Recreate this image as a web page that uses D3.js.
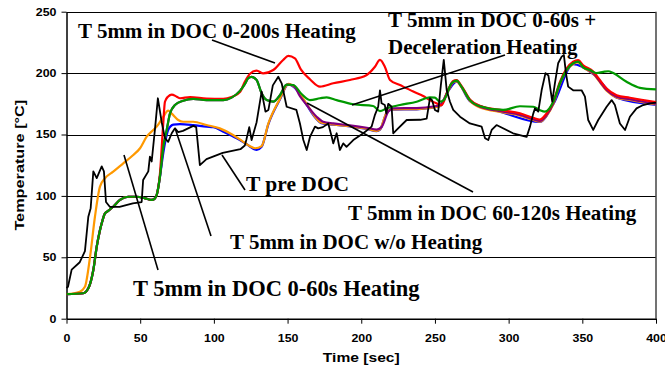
<!DOCTYPE html>
<html><head><meta charset="utf-8">
<script src="https://cdn.jsdelivr.net/npm/d3@7"></script>
<style>body{margin:0;background:#fff}svg{display:block}</style>
</head><body>
<svg id="c" width="665" height="376"></svg>
<script>
// ---- data (time [s], temperature [°C]) ----
const xTicks = [0,50,100,150,200,250,300,350,400];
const yTicks = [0,50,100,150,200,250];

const early = [[0,20],[11.4,20.7],[14.8,24.7],[18.2,39.7],[20.5,58.6],[22.7,72],[23.9,77.7],[26.1,85.8],[27.3,87],[31.7,91.2],[36.3,96.7],[41.9,99.3],[47.6,99.3],[53.3,98],[57.8,96.7],[60,98],[61.2,100.7]];

const preDoc = [[0,25],[1,26],[3.5,40],[9,46],[12.5,55],[14.8,83],[16.4,90],[18.2,120],[20.5,114.5],[23.9,124],[25.4,120],[26.8,95],[29.5,91],[36,91],[45,94],[51,95],[52,113],[55.5,120],[56.6,132],[57.8,128],[60,154],[62,179.5],[64.6,160],[66.8,147],[69,144],[71.4,151],[73.6,155],[75.8,152],[79,153],[86,157],[88,156],[90.5,125],[95,130],[106,135],[118,138],[121,141],[122,145.5],[124,156],[125.6,145.5],[129,160],[132.4,185],[135,168.6],[137,170],[140,190],[143.7,197],[146,191.7],[149.4,172.6],[156,170],[158.4,159],[160.7,145.5],[163,137.4],[165.2,148],[168.6,156.4],[170.8,155],[174,156],[177.6,159],[180,148],[181,142.8],[183.3,151],[185.5,137.4],[187.8,142.8],[190,140],[194.6,145.5],[201.4,151],[207,156.4],[209.3,166],[211.5,172.6],[212.7,186],[213.8,175.4],[216,174],[217,167],[218.3,175],[220.6,172.6],[221.7,151],[224,153.7],[230.8,161.8],[240,162],[244.4,163],[246.6,179.5],[248,178],[250,170],[252.2,168.6],[254,190],[256,210.7],[258,186],[260.2,176.7],[262.4,170],[267,164.5],[273.7,159],[281.7,156.4],[284,147],[286.2,145.5],[288.5,153.7],[291.8,157.7],[303,151],[312.2,148],[314.5,156.4],[316.7,167],[317.9,171.3],[320.1,168.6],[322.4,186],[325,200],[327,198],[329.6,176.7],[331.4,191.7],[333.6,208],[336,213.4],[337.5,214.7],[338.9,200],[340.4,189],[343.8,186],[349.5,186],[351.8,180.8],[354,161.8],[357.4,153.7],[360.8,161.8],[366.5,172.6],[369.9,178],[372.1,174],[375.5,159],[379,153.7],[382.3,164.5],[386.8,171.3],[391.3,174],[395.8,175.4],[400,176]];

const heat0to60 = [[0,20],[9,22],[12.5,26],[16,50.5],[19.3,83],[22.7,107.5],[26.1,114.3],[31.7,119.7],[38.5,126.5],[45.3,133.3],[49.9,138.8],[54.4,148.2],[58.9,153.7],[61.2,156.4],[65.7,164.5],[69,169.5],[71.4,167],[75.8,161.8],[79.2,160.4],[86,160.4],[95,157.7],[104,155],[113,149.6],[120,144],[124.5,140.5],[128,138.8],[132.4,140.6],[137,159],[144.8,179],[150.5,191.3],[155,188.5],[160.7,179],[165,171],[168.6,164.5],[173,159.6],[181,158.2],[192.3,156.7],[203.7,154.7],[210.5,153],[212.7,154.2],[217.2,167.8],[220.6,170.5],[237.6,170.7],[248.9,172],[253.4,173.2],[259,185.5],[262.4,192.5],[264.7,193.3],[268,188.5],[273.7,177.5],[280.5,172],[296.3,168],[307.7,165.4],[316.7,161.8],[321.2,160.4],[325.8,165.4],[330.3,174.8],[334.8,191],[339.3,202],[343.8,207.4],[347.2,208.7],[350.6,204.6],[357.4,199.4],[362,192.4],[366.5,185.6],[373.3,180.2],[382.3,178.1],[389.1,176.7],[400,174.4]];

const noHeat = early.concat([[63.4,115.6],[65.7,135],[66.8,142.8],[69,153.7],[72.5,158],[77,158.5],[86,157.7],[95,156.4],[99.6,156],[106.4,152.3],[115.5,146.9],[122.3,142],[129,137.5],[132.4,140],[137,158.5],[144.8,178.5],[150.5,190.8],[155,188],[160.7,178.5],[168.6,164],[173,159.2],[181,158],[192.3,156.5],[203.7,154.5],[210.5,152.8],[212.7,154],[217.2,167.5],[220.6,170.3],[237.6,170.5],[253.4,173],[259,185.3],[264.7,193],[273.7,177.3],[296.3,167.8],[321.2,160.2],[330.3,174.6],[343.8,207.2],[357.4,199.2],[373.3,180],[400,174.2]]);

const heat0to200 = early.concat([[63.4,118],[65.7,160],[66.8,176.7],[69,181],[71.4,182.5],[74.8,180.8],[77,179.5],[83.8,180.5],[95,179.3],[106.4,179],[112,180.5],[117.7,184.5],[121,193],[124.5,199.5],[129,202],[133.5,199.8],[140.3,202.5],[147,210.7],[150.5,214],[155,212],[159,203],[165.2,195],[172,189],[181,191.7],[192.3,194.4],[203.7,198.5],[209.3,205.2],[212.7,210.7],[216,205.2],[219.5,194.4],[226.3,190.3],[235.3,185],[242,181.4],[246.6,178],[251,175.4],[254.5,173.8],[259,186.6],[262.4,193.6],[264.7,194.4],[268,189.6],[273.7,178.6],[280.5,173.4],[296.3,169.6],[307.7,167.2],[316.7,163.6],[321.2,162.2],[325.8,167.2],[330.3,176.6],[334.8,192.8],[339.3,203.6],[343.8,209.2],[347.2,210.5],[350.6,206.4],[357.4,201.2],[362,194.2],[366.5,187.4],[373.3,182],[382.3,179.9],[389.1,178.5],[400,176.3]]);

const heatDecel = early.concat([[63.4,115.6],[65.7,140],[68,153.7],[70.2,167],[73.6,174],[79.2,177.5],[86,179],[95,178],[106.4,178],[112,180],[117.7,185.5],[121,191],[123.3,195.8],[125.6,197],[129,194.4],[132.4,183.5],[135.8,178],[140.3,176.7],[144.8,182],[149.4,190.6],[153.9,190.3],[159.5,183],[165.2,178],[172,179.5],[176.5,180.3],[183.3,178],[194.6,174.6],[208,173.2],[212.7,169],[217.2,171.3],[226.3,174],[237.6,176.7],[246.6,180.3],[250,180],[253.4,176.7],[256,178],[261.3,191.7],[264.7,193.8],[268,189],[273.7,178],[280.5,173],[296.3,170],[307.7,173],[316.7,172.6],[321,170],[324.6,168.6],[330.3,176.7],[334.8,191.7],[339.3,202.5],[343.8,208],[347.2,209.3],[350.6,204.7],[355.2,202.5],[359.7,200],[364.2,201],[367.6,201.5],[371,200],[380,193],[389.1,188],[400,186.7]]);

const heat60to120 = early.concat([[63.4,115.6],[65.7,140],[68,153.7],[70.2,167],[73.6,174],[79.2,177.5],[86,179],[95,178],[106.4,178],[112,180],[117.7,185.5],[121,191],[123.3,195.8],[125.6,197],[129,194.4],[132.4,183.5],[135.8,178],[140.3,176.7],[144.8,182],[149.4,190.6],[153.9,190],[158.5,181],[163,174],[169.7,164.5],[174.2,160.4],[181,159],[192.3,157.5],[203.7,155.5],[210.5,154],[213.8,156],[218.3,168.6],[221.7,171.3],[237.6,171.5],[248.9,172.8],[253.4,174],[259,186],[262.4,193],[264.7,193.8],[268,189],[273.7,178],[280.5,172.6],[296.3,168.6],[307.7,166],[316.7,162.4],[321.2,161],[325.8,166],[330.3,175.4],[334.8,191.7],[339.3,202.5],[343.8,208],[347.2,209.3],[350.6,205.2],[357.4,200],[362,193],[366.5,186.2],[373.3,180.8],[382.3,178.7],[389.1,177.3],[400,175]]);

const seriesNames = ["T 5mm in DOC w/o Heating","T 5mm in DOC 0-60s Heating","T 5mm in DOC 60-120s Heating","T 5mm in DOC 0-200s Heating","T 5mm in DOC 0-60s + Deceleration Heating","T pre DOC"];
const seriesData = [noHeat, heat0to60, heat60to120, heat0to200, heatDecel, preDoc];
const seriesColors = ["#0000ff","#ff9900","#800080","#ff0000","#009900","#000000"];

// annotations: text lines, label position, leader line end points (pixels)
const labels = [
  {lines:["T 5mm in DOC 0-200s Heating"], size:21, x:78, y:38, lx1:212, ly1:40, lx2:275, ly2:63},
  {lines:["T 5mm in DOC 0-60s +","Deceleration Heating"], size:21, x:388, y:27, lx1:505, ly1:55, lx2:352, ly2:105},
  {lines:["T pre DOC"], size:21.5, x:246, y:191, lx1:245, ly1:190, lx2:222, ly2:155},
  {lines:["T 5mm in DOC 60-120s Heating"], size:21, x:348, y:220, lx1:473, ly1:192, lx2:307, ly2:103},
  {lines:["T 5mm in DOC w/o Heating"], size:21, x:230, y:249, lx1:211, ly1:236, lx2:175, ly2:128},
  {lines:["T 5mm in DOC 0-60s Heating"], size:22.5, x:133, y:296, lx1:158, ly1:270, lx2:124, ly2:155}
];

// ---- drawing ----
const svg = d3.select("#c");
const X0 = 66.5, X1 = 656, Y0 = 318.7, Y1 = 11.7;
const x = d3.scaleLinear().domain([0,400]).range([X0,X1]);
const y = d3.scaleLinear().domain([0,250]).range([Y0,Y1]);
const sans = "'Liberation Sans', Arial, sans-serif";
const serif = "'Liberation Serif', 'Times New Roman', serif";

function stretch(sel, f){ sel.each(function(){ const w=this.getComputedTextLength(); d3.select(this).attr("textLength", w*f).attr("lengthAdjust","spacingAndGlyphs"); }); }

// gridlines
svg.append("g").selectAll("line").data(yTicks.slice(1)).join("line")
  .attr("x1",X0).attr("x2",X1).attr("y1",d=>Math.round(y(d))+0.5).attr("y2",d=>Math.round(y(d))+0.5)
  .attr("stroke","#000").attr("stroke-width",1);
// right border
svg.append("line").attr("x1",X1).attr("x2",X1).attr("y1",y(250)).attr("y2",y(0)).attr("stroke","#444").attr("stroke-width",1.5);

// axes
const gx = svg.append("g").attr("transform",`translate(0,${Y0})`)
  .call(d3.axisBottom(x).tickValues(xTicks).tickSize(5).tickSizeOuter(0));
const gy = svg.append("g").attr("transform",`translate(${X0},0)`)
  .call(d3.axisLeft(y).tickValues(yTicks).tickSize(5).tickSizeOuter(0));
[gx,gy].forEach(g=>{
  g.select(".domain").attr("stroke","#000").attr("stroke-width",1.5);
  g.selectAll(".tick line").attr("stroke","#000");
  g.selectAll("text").attr("font-family",sans).attr("font-weight","bold").attr("font-size","10.5px").attr("fill","#000");
});
gx.selectAll("text").attr("dy","1.5em");
gy.selectAll("text").attr("x",-10);
stretch(gx.selectAll("text"),1.18);
stretch(gy.selectAll("text"),1.18);

// axis titles
svg.append("text").attr("x",(X0+X1)/2).attr("y",362).attr("text-anchor","middle")
  .attr("font-family",sans).attr("font-weight","bold").attr("font-size","13px").text("Time [sec]").call(stretch,1.2);
svg.append("text").attr("transform",`translate(24,${(Y0+Y1)/2}) rotate(-90)`).attr("text-anchor","middle")
  .attr("font-family",sans).attr("font-weight","bold").attr("font-size","13px").text("Temperature [°C]").call(stretch,1.25);

// lines
const lineSmooth = d3.line().x(d=>x(d[0])).y(d=>y(d[1])).curve(d3.curveMonotoneX);
const lineSharp = d3.line().x(d=>x(d[0])).y(d=>y(d[1]));
svg.append("g").selectAll("path").data(seriesData).join("path")
  .attr("d",(d,i)=> i===5 ? lineSharp(d) : lineSmooth(d))
  .attr("fill","none").attr("stroke",(d,i)=>seriesColors[i])
  .attr("stroke-width",(d,i)=> i===5 ? 1.8 : 2.2).attr("stroke-linejoin","round")
  .append("title").text((d,i)=>seriesNames[i]);

// annotations
const ann = svg.append("g");
labels.forEach(l=>{
  ann.append("line").attr("x1",l.lx1).attr("y1",l.ly1).attr("x2",l.lx2).attr("y2",l.ly2).attr("stroke","#000").attr("stroke-width",1.6);
  const t = ann.append("text").attr("font-family",serif).attr("font-weight","bold").attr("font-size",l.size+"px").attr("fill","#000");
  l.lines.forEach((s,i)=> t.append("tspan").attr("x",l.x).attr("y",l.y+i*27).text(s));
});
</script>
</body></html>
